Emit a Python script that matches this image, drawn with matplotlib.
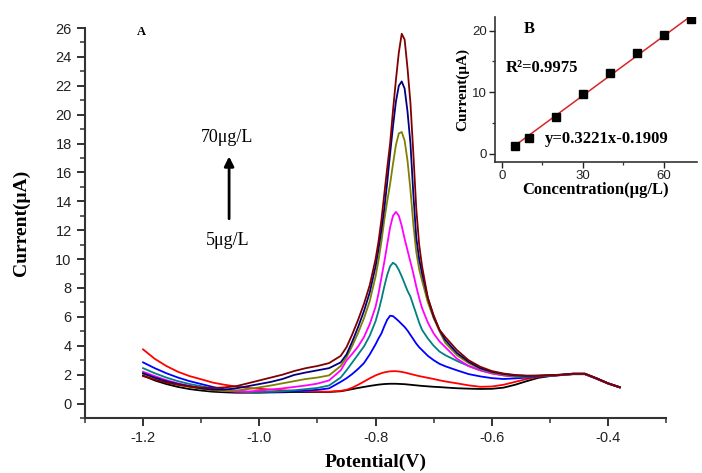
import numpy as np
import matplotlib
matplotlib.use('Agg')
import matplotlib.pyplot as plt
from matplotlib.ticker import MultipleLocator

# potential grid (V), denser around the stripping peak
potential = [-1.20, -1.18, -1.16, -1.14, -1.12, -1.10, -1.08, -1.06, -1.04, -1.02,
             -1.00, -0.98, -0.96, -0.94, -0.92, -0.90, -0.88, -0.86,
             -0.85, -0.84, -0.83, -0.82, -0.81,
             -0.80, -0.795, -0.79, -0.785, -0.78, -0.775, -0.77, -0.765, -0.76,
             -0.755, -0.75, -0.745, -0.74, -0.735, -0.73, -0.725, -0.72,
             -0.71, -0.70, -0.69,
             -0.68, -0.66, -0.64, -0.62, -0.60, -0.58, -0.56, -0.54, -0.52, -0.50,
             -0.48, -0.46, -0.44, -0.42, -0.40, -0.38]

# current (uA) for each concentration
c5 = [1.95, 1.6, 1.35, 1.15, 1.0, 0.9, 0.82, 0.78, 0.75, 0.75,
      0.75, 0.77, 0.78, 0.8, 0.8, 0.8, 0.8, 0.85,
      0.92, 1.0, 1.08, 1.15, 1.22,
      1.28, 1.31, 1.33, 1.35, 1.36, 1.37, 1.37, 1.37, 1.36,
      1.35, 1.34, 1.32, 1.3, 1.28, 1.26, 1.24, 1.22,
      1.19, 1.16, 1.14,
      1.11, 1.06, 1.03, 1.01, 1.02, 1.1, 1.3, 1.55, 1.78, 1.9,
      1.97, 2.03, 2.03, 1.72, 1.38, 1.12]
c10 = [3.75, 3.1, 2.6, 2.2, 1.9, 1.68, 1.45, 1.3, 1.18, 1.08,
       1.02, 0.97, 0.92, 0.88, 0.85, 0.83, 0.82, 0.88,
       0.95, 1.1, 1.3, 1.52, 1.75,
       1.95, 2.03, 2.1, 2.16, 2.2, 2.23, 2.24, 2.24, 2.22,
       2.19, 2.15, 2.1, 2.05, 2.0, 1.95, 1.9, 1.86,
       1.78, 1.7, 1.61,
       1.53, 1.4, 1.26, 1.16, 1.18, 1.3, 1.5, 1.7, 1.85, 1.92,
       1.98, 2.04, 2.04, 1.72, 1.38, 1.12]
c20 = [2.85, 2.45, 2.1, 1.8, 1.55, 1.35, 1.15, 0.98, 0.88, 0.82,
       0.8, 0.8, 0.82, 0.86, 0.9, 0.95, 1.05, 1.5,
       1.75, 2.05, 2.4, 2.8, 3.4,
       4.1, 4.5, 4.85, 5.35, 5.8, 6.08, 6.05, 5.88, 5.7,
       5.5, 5.3, 5.05, 4.75, 4.45, 4.15, 3.9, 3.7,
       3.3, 3.0, 2.75,
       2.58, 2.3, 2.04, 1.88, 1.76, 1.7, 1.74, 1.8, 1.88, 1.93,
       1.98, 2.05, 2.05, 1.74, 1.4, 1.13]
c30 = [2.45, 2.1, 1.8, 1.55, 1.35, 1.2, 1.05, 0.92, 0.85, 0.8,
       0.8, 0.82, 0.85, 0.92, 1.0, 1.08, 1.25, 1.8,
       2.3, 2.85, 3.4, 3.95, 4.7,
       5.7, 6.4, 7.2, 8.1, 8.9, 9.5, 9.75, 9.6, 9.25,
       8.8, 8.3, 7.8, 7.4, 6.8, 6.2, 5.6, 5.1,
       4.5, 4.0, 3.6,
       3.35, 2.95, 2.6, 2.3, 2.1, 1.95, 1.85, 1.85, 1.9, 1.94,
       1.98, 2.05, 2.05, 1.74, 1.4, 1.13]
c40 = [2.2, 1.9, 1.62, 1.4, 1.22, 1.08, 0.97, 0.88, 0.82, 0.82,
       0.9, 0.97, 1.05, 1.15, 1.25, 1.38, 1.6, 2.3,
       2.98, 3.45, 3.95, 4.6, 5.5,
       6.7, 7.6, 8.7, 9.8, 11.0, 12.2, 13.0, 13.27, 13.0,
       12.3, 11.4, 10.6, 9.8, 9.0, 8.1, 7.3, 6.6,
       5.6, 4.85, 4.3,
       3.9, 3.1, 2.6, 2.3, 2.08, 1.95, 1.9, 1.9, 1.92, 1.95,
       1.99, 2.06, 2.06, 1.74, 1.4, 1.13]
c50 = [2.05, 1.75, 1.5, 1.3, 1.15, 1.02, 0.92, 0.88, 0.9, 1.0,
       1.12, 1.25, 1.4, 1.55, 1.7, 1.8, 1.95, 2.6,
       3.2, 4.0, 4.9, 5.9, 7.1,
       8.8, 9.9, 11.2, 12.7, 14.0, 15.2, 16.6, 17.9, 18.7,
       18.8, 18.2, 16.8, 14.8, 12.4, 10.5, 9.3, 8.5,
       7.0, 5.9, 5.0,
       4.2, 3.35, 2.8, 2.4, 2.15, 2.0, 1.92, 1.9, 1.92, 1.95,
       1.99, 2.06, 2.06, 1.75, 1.4, 1.13]
c60 = [2.1, 1.8, 1.55, 1.35, 1.2, 1.05, 0.97, 0.97, 1.05, 1.2,
       1.35, 1.5, 1.7, 1.98, 2.15, 2.3, 2.45, 2.85,
       3.4, 4.3, 5.3, 6.4, 7.7,
       9.5, 10.7, 12.0, 13.5, 15.3, 17.3, 19.2, 20.9, 22.0,
       22.3, 21.8, 20.2, 18.0, 14.5, 11.5, 10.0, 9.0,
       7.3, 6.0, 5.1,
       4.4, 3.5, 2.9, 2.45, 2.2, 2.05, 1.95, 1.92, 1.93, 1.96,
       2.0, 2.07, 2.07, 1.75, 1.4, 1.13]
c70 = [1.9, 1.65, 1.45, 1.3, 1.18, 1.1, 1.08, 1.12, 1.2, 1.4,
       1.6, 1.8, 2.0, 2.25, 2.45, 2.6, 2.8, 3.3,
       3.9, 4.8, 5.8, 6.9, 8.2,
       10.0, 11.2, 12.7, 14.5, 16.3, 18.0, 20.3, 22.4, 24.3,
       25.6, 25.2, 23.2, 20.8, 17.3, 13.5, 11.0, 9.5,
       7.3, 6.1, 5.1,
       4.6, 3.7, 3.0, 2.55, 2.25, 2.08, 1.98, 1.93, 1.93, 1.96,
       2.0, 2.07, 2.07, 1.75, 1.4, 1.13]

curves = [c5, c10, c20, c30, c40, c50, c60, c70]
colors = ['#000000', '#ff0000', '#0000ff', '#008080', '#ff00ff', '#808000', '#000080', '#800000']

# calibration (inset)
conc = [5, 10, 20, 30, 40, 50, 60, 70]
peak = [1.35, 2.6, 6.0, 9.8, 13.2, 16.4, 19.2, 21.9]
slope, intercept = 0.3221, -0.1909

serif = 'Liberation Serif'
sans = 'Liberation Sans'

fig = plt.figure(figsize=(7.02, 4.73), dpi=100)
ax = fig.add_axes([0.121, 0.1163, 0.828, 0.8245])
for y, c in zip(curves, colors):
    ax.plot(potential, y, color=c, lw=1.3, solid_joinstyle='round')

ax.set_xlim(-1.3, -0.3)
ax.set_ylim(-1, 26)
ax.xaxis.set_minor_locator(MultipleLocator(0.1))
ax.yaxis.set_minor_locator(MultipleLocator(1))
ax.set_xticks([-1.2, -1.0, -0.8, -0.6, -0.4])
ax.set_xticklabels(['-1.2', '-1.0', '-0.8', '-0.6', '-0.4'])
ax.set_yticks(range(0, 27, 2))
for s in ['top', 'right']:
    ax.spines[s].set_visible(False)
for s in ['left', 'bottom']:
    ax.spines[s].set_linewidth(1.5)
    ax.spines[s].set_color('#333333')
ax.tick_params(which='major', direction='out', length=6, width=1.3, labelsize=10.5, colors='#222222')
ax.tick_params(which='minor', direction='out', length=3.5, width=1.1, colors='#333333')
for lab in ax.get_xticklabels() + ax.get_yticklabels():
    lab.set_family(sans)
ax.set_xlabel('Potential(V)', fontsize=14, fontweight='bold', family=serif, labelpad=6)
ax.set_ylabel('Current(μA)', fontsize=14, fontweight='bold', family=serif, labelpad=18)

ax.text(-1.21, 25.7, 'A', fontsize=9, fontweight='bold', family=serif, va='center')
ax.text(-1.055, 18.4, '70μg/L', fontsize=13, family=serif, ha='center', va='center')
ax.text(-1.055, 11.3, '5μg/L', fontsize=13, family=serif, ha='center', va='center')
ax.annotate('', xy=(-1.052, 17.3), xytext=(-1.052, 12.6),
            arrowprops=dict(arrowstyle='-|>', color='black', lw=2, mutation_scale=14))

# inset calibration plot
ins = fig.add_axes([0.705, 0.6575, 0.2877, 0.3066])
fx = np.array([conc[0], conc[-1]])
ins.plot(fx, slope * fx + intercept, color='#d62728', lw=1.1)
ins.plot(conc, peak, 's', color='black', ms=5.5)
ins.set_xlim(-2.6, 72.2)
ins.set_ylim(-1.3, 22.2)
ins.xaxis.set_major_locator(MultipleLocator(30))
ins.xaxis.set_minor_locator(MultipleLocator(15))
ins.yaxis.set_major_locator(MultipleLocator(10))
ins.yaxis.set_minor_locator(MultipleLocator(5))
for s in ['top', 'right']:
    ins.spines[s].set_visible(False)
for s in ['left', 'bottom']:
    ins.spines[s].set_linewidth(1.2)
    ins.spines[s].set_color('#333333')
ins.tick_params(which='major', direction='out', length=4, width=1.0, labelsize=9.5, colors='#222222', pad=2)
ins.tick_params(which='minor', direction='out', length=2.5, width=0.9, colors='#333333')
for lab in ins.get_xticklabels() + ins.get_yticklabels():
    lab.set_family(sans)
ins.set_xlabel('Concentration(μg/L)', fontsize=12, fontweight='bold', family=serif, labelpad=0)
ins.set_ylabel('Current(μA)', fontsize=11, fontweight='bold', family=serif, labelpad=2)
ins.text(8, 20.2, 'B', fontsize=12, fontweight='bold', family=serif, va='center')
ins.text(1.5, 13.9, 'R²=0.9975', fontsize=12, fontweight='bold', family=serif, va='center')
ins.text(16, 2.5, 'y=0.3221x-0.1909', fontsize=12, fontweight='bold', family=serif, va='center')

fig.savefig('out.png', dpi=100)
